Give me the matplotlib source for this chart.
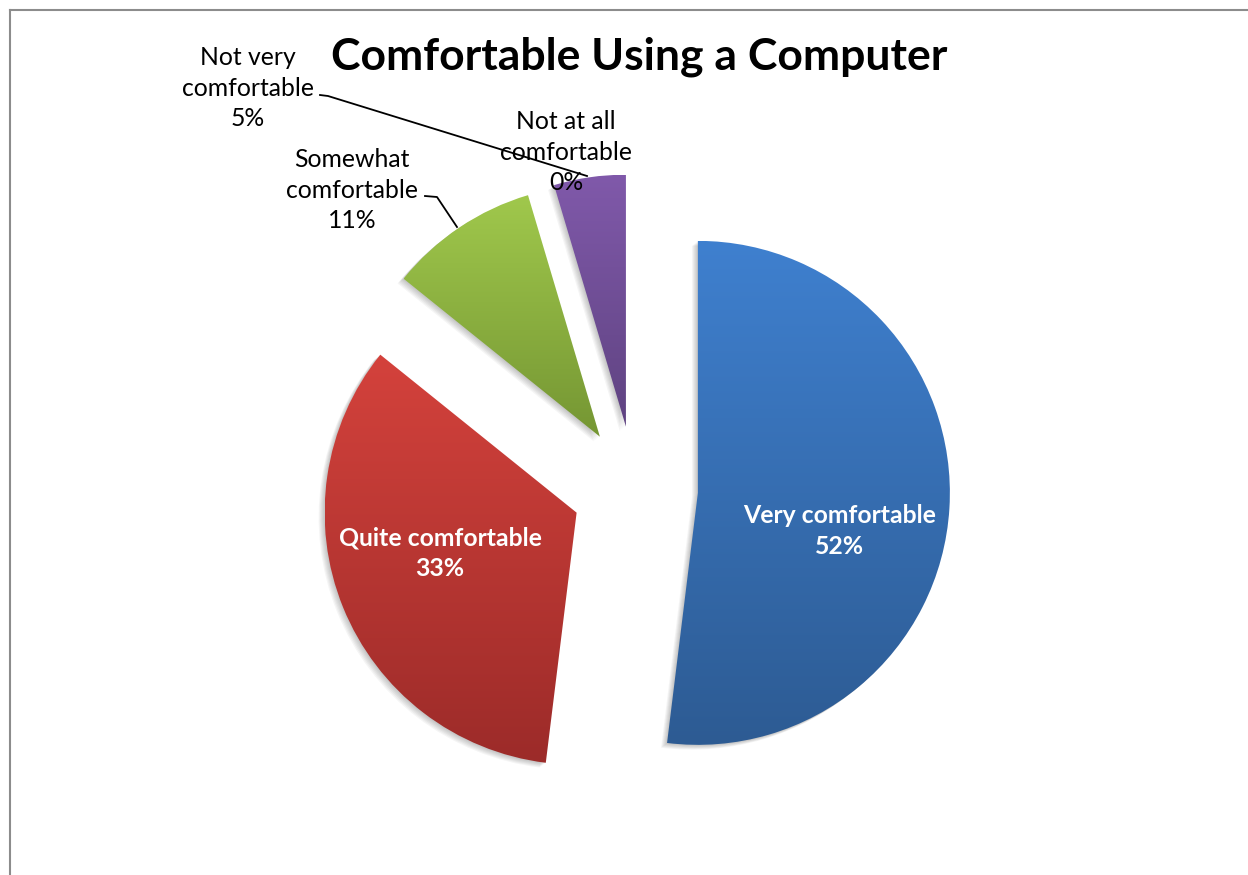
import matplotlib.pyplot as plt
import numpy as np
from matplotlib.colors import LinearSegmentedColormap
from matplotlib.lines import Line2D
from matplotlib.patches import Wedge

# survey answers, clockwise from 12 o'clock
categories = ["Very comfortable", "Quite comfortable", "Somewhat comfortable",
              "Not very comfortable", "Not at all comfortable"]
shares = [51.9, 33.8, 9.6, 4.6, 0.0]       # slice sizes as drawn
pct_labels = [52, 33, 11, 5, 0]            # percentages printed on the chart
top_colors = ["#3f80cf", "#d4423c", "#a0c84c", "#8059aa"]
bottom_colors = ["#2d5b93", "#9c2b29", "#759633", "#5f4381"]

W, H = 1248, 875
plt.rcParams['font.family'] = ['Lato', 'DejaVu Sans']

fig = plt.figure(figsize=(W / 100, H / 100), dpi=100)
ax = fig.add_axes([0, 0, 1, 1])

center = (635, H - 489)
radius = 252
explode = [63] * len(shares)

wedges, _ = ax.pie(shares, startangle=90, counterclock=False, center=center,
                   radius=radius, explode=explode,
                   wedgeprops=dict(facecolor="none", edgecolor="none"))

for i, w in enumerate(wedges):
    if shares[i] == 0:
        continue
    # soft shadow on the lower left
    for k in range(1, 7):
        sh = Wedge((w.center[0] - k, w.center[1] - k * 0.8), w.r, w.theta1, w.theta2,
                   facecolor="black", edgecolor="none", alpha=0.04, zorder=1)
        ax.add_patch(sh)
    bb = w.get_path().get_extents()
    cmap = LinearSegmentedColormap.from_list("g%d" % i, [bottom_colors[i], top_colors[i]])
    grad = np.linspace(0, 1, 256).reshape(-1, 1)
    im = ax.imshow(grad, extent=[bb.x0, bb.x1, bb.y0, bb.y1], origin="lower",
                   cmap=cmap, aspect="auto", zorder=2)
    im.set_clip_path(w)

ax.set_xlim(0, W)
ax.set_ylim(0, H)
ax.set_aspect("equal")
ax.axis("off")


def px(x, y):
    return x, H - y


ax.text(*px(639, 57), "Comfortable Using a Computer", ha="center", va="center",
        fontsize=32, fontweight="bold", color="black")

inside = {0: (840, 531), 1: (440, 553)}
for i, (x, y) in inside.items():
    ax.text(*px(x, y), "%s\n%d%%" % (categories[i], pct_labels[i]), ha="center",
            va="center", fontsize=17.8, fontweight="bold", color="white",
            linespacing=1.4, zorder=4)

outside = {2: (352, 190, "Somewhat\ncomfortable"),
           3: (248, 88, "Not very\ncomfortable"),
           4: (566, 152, "Not at all\ncomfortable")}
for i, (x, y, lab) in outside.items():
    ax.text(*px(x, y), "%s\n%d%%" % (lab, pct_labels[i]), ha="center", va="center",
            fontsize=17.8, color="black", linespacing=1.4, zorder=4)

# leader lines
ax.plot(*zip(px(320, 95), px(328, 96), px(587, 176)), color="black", lw=1.3, zorder=5)
ax.plot(*zip(px(425, 196), px(437, 197), px(457, 227)), color="black", lw=1.3, zorder=5)

# chart border (left and top edges visible)
fig.add_artist(Line2D([10 / W, 10 / W], [0, 1 - 10 / H], transform=fig.transFigure,
                      color="#8c8c8c", lw=1.5))
fig.add_artist(Line2D([10 / W, 1], [1 - 10 / H, 1 - 10 / H], transform=fig.transFigure,
                      color="#8c8c8c", lw=1.5))

fig.savefig("out.png", dpi=100)
